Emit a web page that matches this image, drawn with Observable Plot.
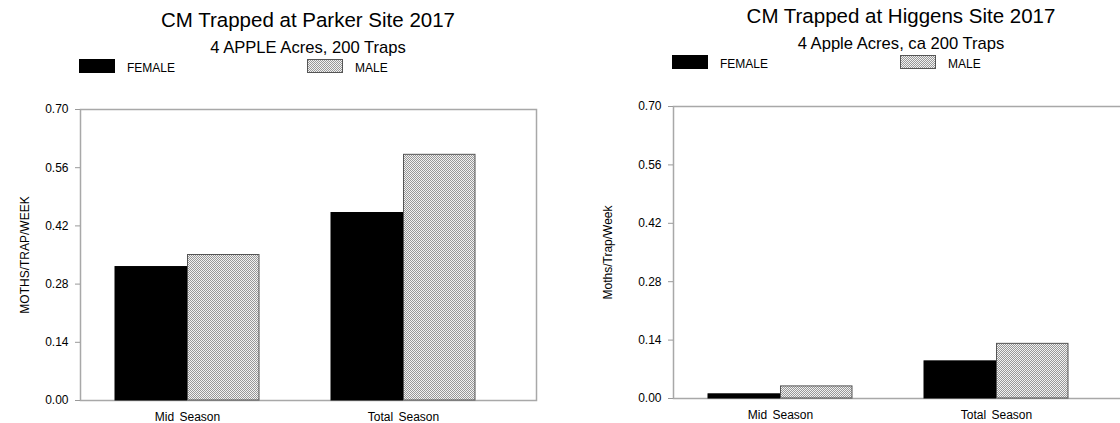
<!DOCTYPE html>
<html>
<head>
<meta charset="utf-8">
<script src="https://cdn.jsdelivr.net/npm/d3@7"></script>
<script src="https://cdn.jsdelivr.net/npm/@observablehq/plot@0.6"></script>
<style>
  html, body { margin: 0; padding: 0; background: #fff; }
  #root { position: relative; width: 1120px; height: 423px; overflow: hidden; font-family: "Liberation Sans", Arial, sans-serif; color: #000; }
  .chart { position: absolute; width: 560px; height: 450px; }
  .t { position: absolute; left: 0; width: 616px; text-align: center; line-height: 1; white-space: nowrap; }
  .title { font-size: 20.5px; }
  .sub { font-size: 16.6px; }
  .lg { position: absolute; font-size: 12px; line-height: 1; white-space: nowrap; }
  .chart svg.plot { position: absolute; left: 0; }
  .chart svg.plot g[aria-label="x-axis tick label"] text { word-spacing: 2px; }
</style>
</head>
<body>
<svg width="0" height="0" style="position:absolute">
  <defs>
    <pattern id="checker" width="2" height="2" patternUnits="userSpaceOnUse">
      <rect width="2" height="2" fill="#f2f2f2"></rect>
      <rect width="1" height="1" fill="#989898"></rect>
      <rect x="1" y="1" width="1" height="1" fill="#989898"></rect>
    </pattern>
  </defs>
</svg>
<div id="root"></div>
<script>
// ---- data ----
const seasons = ["Mid Season", "Total Season"];
const sexes = ["FEMALE", "MALE"];
const parkerFemale = [0.321, 0.451];
const parkerMale = [0.350, 0.591];
const higgensFemale = [0.010, 0.089];
const higgensMale = [0.029, 0.131];
const yTicks = [0, 0.14, 0.28, 0.42, 0.56, 0.70];

const charts = [
  {title: "CM Trapped at Parker Site 2017", subtitle: "4 APPLE Acres, 200 Traps",
   ylabel: "MOTHS/TRAP/WEEK", female: parkerFemale, male: parkerMale,
   left: 0, top: 0, frameTop: 109, frameBottom: 400, labelOffset: 60},
  {title: "CM Trapped at Higgens Site 2017", subtitle: "4 Apple Acres, ca 200 Traps",
   ylabel: "Moths/Trap/Week", female: higgensFemale, male: higgensMale,
   left: 593, top: -4, frameTop: 110, frameBottom: 402, labelOffset: 70}
];

const root = document.getElementById("root");
const W = 560, ML = 80, MR = 24;
const xOptions = {domain: seasons, paddingInner: 0.3318, paddingOuter: 0.2166, align: 0.365};

for (const c of charts) {
  const data = [];
  seasons.forEach((s, i) => {
    data.push({season: s, sex: sexes[0], value: c.female[i]});
    data.push({season: s, sex: sexes[1], value: c.male[i]});
  });

  const div = document.createElement("div");
  div.className = "chart";
  div.style.left = c.left + "px";
  div.style.top = c.top + "px";

  const title = document.createElement("div");
  title.className = "t title";
  title.style.top = "10px";
  title.textContent = c.title;
  div.appendChild(title);

  const sub = document.createElement("div");
  sub.className = "t sub";
  sub.style.top = "40px";
  sub.textContent = c.subtitle;
  div.appendChild(sub);

  const legendItems = [
    {label: sexes[0], sx: 79, tx: 127, fill: "#000", stroke: "#000"},
    {label: sexes[1], sx: 307, tx: 355, fill: "url(#checker)", stroke: "#555"}
  ];
  for (const it of legendItems) {
    const sw = document.createElementNS("http://www.w3.org/2000/svg", "svg");
    sw.setAttribute("width", 36); sw.setAttribute("height", 14);
    sw.style.position = "absolute"; sw.style.left = it.sx + "px"; sw.style.top = "59px";
    const r = document.createElementNS("http://www.w3.org/2000/svg", "rect");
    r.setAttribute("x", 0.5); r.setAttribute("y", 0.5); r.setAttribute("width", 35); r.setAttribute("height", 13);
    r.setAttribute("fill", it.fill); r.setAttribute("stroke", it.stroke);
    sw.appendChild(r);
    div.appendChild(sw);
    const t = document.createElement("div");
    t.className = "lg";
    t.style.left = it.tx + "px";
    t.style.top = "62.4px";
    t.textContent = it.label;
    div.appendChild(t);
  }

  // band width of each season group, taken from Plot's own x scale
  const xScale = Plot.scale({x: {type: "band", ...xOptions, range: [ML, W - MR]}});
  const half = xScale.bandwidth / 2;

  const svgTop = 80;
  const height = 360;
  const plot = Plot.plot({
    width: W,
    height,
    marginLeft: ML,
    marginRight: MR,
    marginTop: c.frameTop - svgTop,
    marginBottom: svgTop + height - c.frameBottom,
    style: {fontFamily: "'Liberation Sans', Arial, sans-serif", fontSize: "12px", background: "transparent", color: "#000"},
    x: {type: "band", ...xOptions},
    y: {domain: [0, 0.7]},
    color: {domain: sexes, range: ["#000", "url(#checker)"]},
    marks: [
      Plot.frame({stroke: "#a8a8a8", strokeWidth: 1.5}),
      Plot.axisY({ticks: yTicks, tickFormat: ".2f", tickSize: 5, tickPadding: 7,
                  stroke: "#999", fill: "#000", label: c.ylabel, labelAnchor: "center", labelOffset: c.labelOffset,
                  labelArrow: "none"}),
      Plot.axisX({tickSize: 0, tickPadding: 12, label: null, fill: "#000"}),
      Plot.barY(data.filter(d => d.sex === sexes[0]),
        {x: "season", y: "value", fill: "sex", stroke: "#000", strokeWidth: 1, insetRight: half}),
      Plot.barY(data.filter(d => d.sex === sexes[1]),
        {x: "season", y: "value", fill: "sex", stroke: "#555", strokeWidth: 1, insetLeft: half})
    ]
  });
  plot.classList.add("plot");
  plot.style.top = svgTop + "px";
  div.appendChild(plot);
  root.appendChild(div);
}
</script>
</body>
</html>
